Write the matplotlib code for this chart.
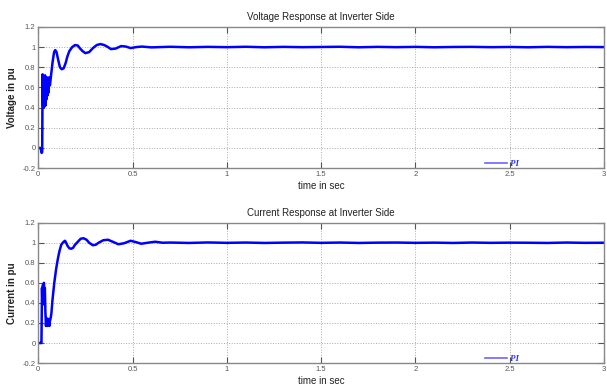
import matplotlib.pyplot as plt

# voltage response
t_volt = [0, 0.012, 0.018, 0.021, 0.023, 0.026, 0.028, 0.030, 0.032, 0.034, 0.036,
          0.038, 0.040, 0.043, 0.046, 0.049, 0.052, 0.055, 0.058, 0.062, 0.068,
          0.076, 0.084, 0.090, 0.097, 0.105, 0.115, 0.125, 0.135, 0.145, 0.155,
          0.165, 0.18, 0.195, 0.21, 0.22, 0.235, 0.25, 0.27, 0.29, 0.31, 0.33,
          0.35, 0.37, 0.385, 0.41, 0.44, 0.465, 0.49, 0.52, 0.55,
          0.6, 0.7, 0.8, 0.9, 1.0, 1.1, 1.2, 1.3, 1.4, 1.5, 1.6, 1.7, 1.8, 1.9,
          2.0, 2.1, 2.2, 2.3, 2.4, 2.5, 2.6, 2.7, 2.8, 2.9, 3.0]
v_volt = [0, 0, -0.05, -0.04, 0.73, 0.42, 0.70, 0.40, 0.68, 0.45, 0.72,
          0.42, 0.65, 0.48, 0.70, 0.52, 0.63, 0.55, 0.70, 0.62, 0.72,
          0.85, 0.95, 0.97, 0.95, 0.88, 0.80, 0.78, 0.79, 0.84, 0.91,
          0.96, 1.0, 1.02, 1.015, 0.99, 0.96, 0.94, 0.95, 0.99, 1.02, 1.03,
          1.02, 1.0, 0.98, 0.985, 1.01, 1.005, 0.99, 1.0, 1.005,
          0.997, 1.003, 0.998, 1.002, 0.999, 1.003, 0.998, 1.002, 0.999, 1.001,
          1.003, 0.998, 1.002, 0.999, 1.002, 0.998, 1.001, 1.002, 0.999, 1.001,
          0.998, 1.002, 0.999, 1.001, 1.0]

# current response
t_curr = [0, 0.014, 0.017, 0.020, 0.022, 0.025, 0.027, 0.030, 0.032, 0.035,
          0.038, 0.041, 0.044, 0.047, 0.050, 0.053, 0.056, 0.059, 0.062, 0.066,
          0.070, 0.075, 0.085, 0.095, 0.105, 0.113, 0.122, 0.130, 0.135, 0.142,
          0.148, 0.155, 0.165, 0.175, 0.185, 0.195, 0.21, 0.225, 0.24, 0.256,
          0.27, 0.29, 0.305, 0.32, 0.345, 0.37, 0.395, 0.425, 0.455, 0.49,
          0.52, 0.546, 0.58, 0.62, 0.66,
          0.7, 0.8, 0.9, 1.0, 1.1, 1.2, 1.3, 1.4, 1.5, 1.6, 1.7, 1.8, 1.9,
          2.0, 2.1, 2.2, 2.3, 2.4, 2.5, 2.6, 2.7, 2.8, 2.9, 3.0]
i_curr = [0, 0, 0.0, 0.55, 0.38, 0.58, 0.40, 0.60, 0.45, 0.55,
          0.30, 0.17, 0.25, 0.17, 0.22, 0.18, 0.24, 0.17, 0.22, 0.25,
          0.30, 0.42, 0.60, 0.74, 0.85, 0.92, 0.98, 1.0, 1.01, 1.02,
          1.0, 0.97, 0.945, 0.94, 0.95, 0.98, 1.01, 1.04, 1.045, 1.03,
          1.0, 0.975, 0.98, 1.0, 1.025, 1.03, 1.01, 0.985, 0.995, 1.02,
          1.005, 0.99, 1.0, 1.01, 1.0,
          1.002, 0.998, 1.003, 0.999, 1.002, 0.998, 1.001, 1.003, 0.999, 1.002,
          0.998, 1.001, 1.002, 0.999, 1.001, 0.998, 1.002, 0.999, 1.001, 1.0,
          0.998, 1.002, 0.999, 1.0]

x_ticks = [0, 0.5, 1, 1.5, 2, 2.5, 3]
x_tick_labels = ['0', '0.5', '1', '1.5', '2', '2.5', '3']
y_ticks = [-0.2, 0, 0.2, 0.4, 0.6, 0.8, 1, 1.2]
y_tick_labels = ['-0.2', '0', '0.2', '0.4', '0.6', '0.8', '1', '1.2']

panels = [
    ('Voltage Response at Inverter Side', 'Voltage in pu', t_volt, v_volt),
    ('Current Response at Inverter Side', 'Current in pu', t_curr, i_curr),
]

plt.rcParams['font.family'] = ['Liberation Sans', 'DejaVu Sans']

fig = plt.figure(figsize=(6.07, 3.9), dpi=100, facecolor='w')
positions = [[0.063, 0.569, 0.932, 0.362], [0.063, 0.069, 0.932, 0.36]]

for pos, (title, ylabel, t, y) in zip(positions, panels):
    ax = fig.add_axes(pos)
    ax.plot(t, y, color='#0000ff', linewidth=1.8, label='PI')
    ax.set_xlim(0, 3)
    ax.set_ylim(-0.2, 1.2)
    ax.set_xticks(x_ticks)
    ax.set_xticklabels(x_tick_labels)
    ax.set_yticks(y_ticks)
    ax.set_yticklabels(y_tick_labels)
    ax.grid(True, linestyle=':', color='#aaaaaa', linewidth=0.7)
    ax.tick_params(direction='in', length=4, width=0.8, top=True, right=True,
                   labelsize=5.5, colors='#555555', pad=2)
    for s in ax.spines.values():
        s.set_color('#888888')
        s.set_linewidth(1.0)
    ax.set_title(title, fontsize=7, color='#222222', pad=5)
    ax.set_xlabel('time in sec', fontsize=7, color='#222222', labelpad=2)
    ax.set_ylabel(ylabel, fontsize=7, fontweight='bold', color='#222222', labelpad=4)
    leg = ax.legend(loc='lower left', bbox_to_anchor=(0.775, -0.055), frameon=False,
                    handlelength=2.5, handletextpad=0.3,
                    prop={'family': 'Liberation Serif', 'style': 'italic',
                          'weight': 'bold', 'size': 6.5})
    leg.get_lines()[0].set_color('#6666ff')
    leg.get_lines()[0].set_linewidth(1.2)
    leg.get_texts()[0].set_color('#3333ff')

fig.savefig('out.png', dpi=100)
